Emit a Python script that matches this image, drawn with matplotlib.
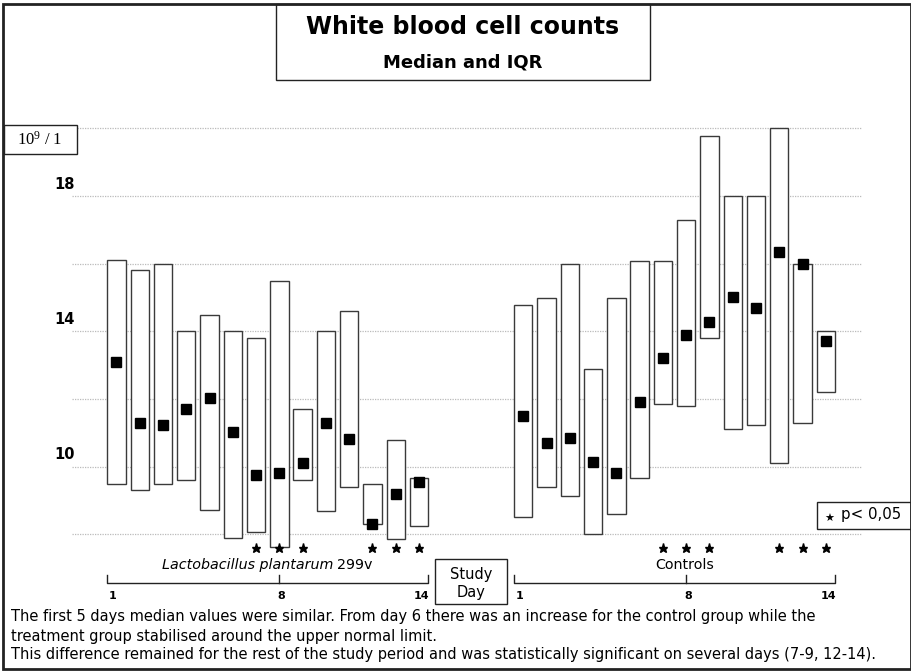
import matplotlib
matplotlib.use("Agg")
import matplotlib.pyplot as plt
from matplotlib.patches import Rectangle

# --- data ---
days = list(range(1, 15))

lacto_q1 = [9.49, 9.31, 9.49, 9.62, 8.71, 7.90, 8.07, 7.63, 9.62, 8.68, 9.41, 8.30, 7.87, 8.24]
lacto_q3 = [16.12, 15.80, 16.00, 14.00, 14.48, 14.00, 13.81, 15.49, 11.71, 14.00, 14.60, 9.49, 10.80, 9.67]
lacto_med = [13.10, 11.30, 11.22, 11.71, 12.03, 11.03, 9.75, 9.81, 10.11, 11.30, 10.81, 8.30, 9.20, 9.55]

ctrl_q1 = [8.50, 9.40, 9.13, 8.00, 8.61, 9.67, 11.85, 11.79, 13.81, 11.12, 11.23, 10.11, 11.30, 12.20]
ctrl_q3 = [14.79, 14.99, 15.98, 12.89, 14.99, 16.09, 16.09, 17.30, 19.76, 18.00, 18.00, 20.00, 15.98, 14.00]
ctrl_med = [11.51, 10.71, 10.84, 10.15, 9.80, 11.90, 13.21, 13.89, 14.29, 15.00, 14.68, 16.35, 16.00, 13.70]

signif_days = [7, 8, 9, 12, 13, 14]
grid_values = [8, 10, 12, 14, 16, 18, 20]
tick_values = [10, 14, 18]
day_labels = [1, 8, 14]

W, H = 912, 671
ctrl_offset = 17.48   # controls drawn right of the treatment group
box_w = 0.79

plt.rcParams["font.family"] = ["DejaVu Sans"]

fig = plt.figure(figsize=(W / 100, H / 100), dpi=100)
ax = fig.add_axes([0, 0, 1, 1])
ax.set_xlim(-4.006, 35.185)
ax.set_ylim(3.963, 23.79)
ax.axis("off")


def px(x, y):
    # pixel position (from top-left) -> figure fraction
    return x / W, 1 - y / H


def fbox(x0, y0, x1, y1, lw=1.0, z=5):
    r = Rectangle(px(x0, y1), (x1 - x0) / W, (y1 - y0) / H, transform=fig.transFigure,
                  facecolor="white", edgecolor="#222222", lw=lw, zorder=z)
    fig.add_artist(r)


# gridlines
ax.hlines(grid_values, -0.91, 33.04, colors="#bbbbbb", linestyles=(0, (1, 1)), lw=0.9, zorder=1)

# boxes + medians
for offset, q1, q3, med in [(0, lacto_q1, lacto_q3, lacto_med),
                            (ctrl_offset, ctrl_q1, ctrl_q3, ctrl_med)]:
    xs = [d + offset for d in days]
    for x, lo, hi in zip(xs, q1, q3):
        ax.add_patch(Rectangle((x - box_w / 2, lo), box_w, hi - lo, facecolor="white",
                               edgecolor="#3a3a3a", lw=1.0, zorder=2))
    ax.plot(xs, med, "s", color="black", markersize=6.5, zorder=3)
    sx = [d + offset for d in signif_days]
    ax.plot(sx, [7.6] * len(sx), "*", color="black", markersize=6.5, zorder=4)

    # study-day bracket
    x0 = days[0] - box_w / 2 + offset
    x1 = days[-1] + box_w / 2 + offset
    ax.plot([x0, x0, x1, x1], [6.8, 6.57, 6.57, 6.8], color="#222222", lw=1, zorder=2)
    ax.plot([8 + offset, 8 + offset], [6.57, 6.8], color="#222222", lw=1, zorder=2)
    for d, shift in zip(day_labels, [-0.15, 0.1, 0.1]):
        ax.text(d + offset + shift, 6.18, str(d), ha="center", va="center", fontsize=8,
                fontweight="bold")

# y tick labels
for v in tick_values:
    ax.text(-0.78, v + 0.35, str(v), ha="right", va="center", fontsize=10.5,
            fontweight="bold")

# title box
fbox(276, 4, 650, 80)
fig.text(*px(463, 27), "White blood cell counts", ha="center", va="center",
         fontsize=17, fontweight="bold", zorder=6)
fig.text(*px(463, 62), "Median and IQR", ha="center", va="center",
         fontsize=13, fontweight="bold", zorder=6)

# unit box
fbox(4, 125, 77, 154)
fig.text(*px(40, 140), r"$\mathregular{10^9}$ / 1", ha="center", va="center",
         fontsize=12, family="Liberation Serif", zorder=6)

# significance legend
fbox(817, 502, 911, 529)
fig.text(*px(829, 519), "\u2605", ha="center", va="center", fontsize=8, zorder=6)
fig.text(*px(841, 514), "p< 0,05", ha="left", va="center", fontsize=10.8, zorder=6)

# group labels
fig.text(*px(333, 565), "Lactobacillus plantarum", ha="right", va="center",
         fontsize=10.3, style="italic")
fig.text(*px(337, 565), "299v", ha="left", va="center", fontsize=10.3)
fig.text(*px(685, 565), "Controls", ha="center", va="center", fontsize=10.3)

# study day box
fbox(435, 559, 507, 604)
fig.text(*px(471, 574), "Study", ha="center", va="center", fontsize=10.5, zorder=6)
fig.text(*px(471, 593), "Day", ha="center", va="center", fontsize=10.5, zorder=6)

# notes
notes = ["The first 5 days median values were similar. From day 6 there was an increase for the control group while the",
         "treatment group stabilised around the upper normal limit.",
         "This difference remained for the rest of the study period and was statistically significant on several days (7-9, 12-14)."]
for yy, line in zip([617, 636, 654], notes):
    fig.text(*px(11, yy), line, ha="left", va="center", fontsize=10.5)

# outer frame
fig.add_artist(Rectangle(px(3, 669), 908 / W, 665 / H, transform=fig.transFigure,
                         fill=False, edgecolor="#222222", lw=2, zorder=10))

fig.savefig("out.png", dpi=100)
